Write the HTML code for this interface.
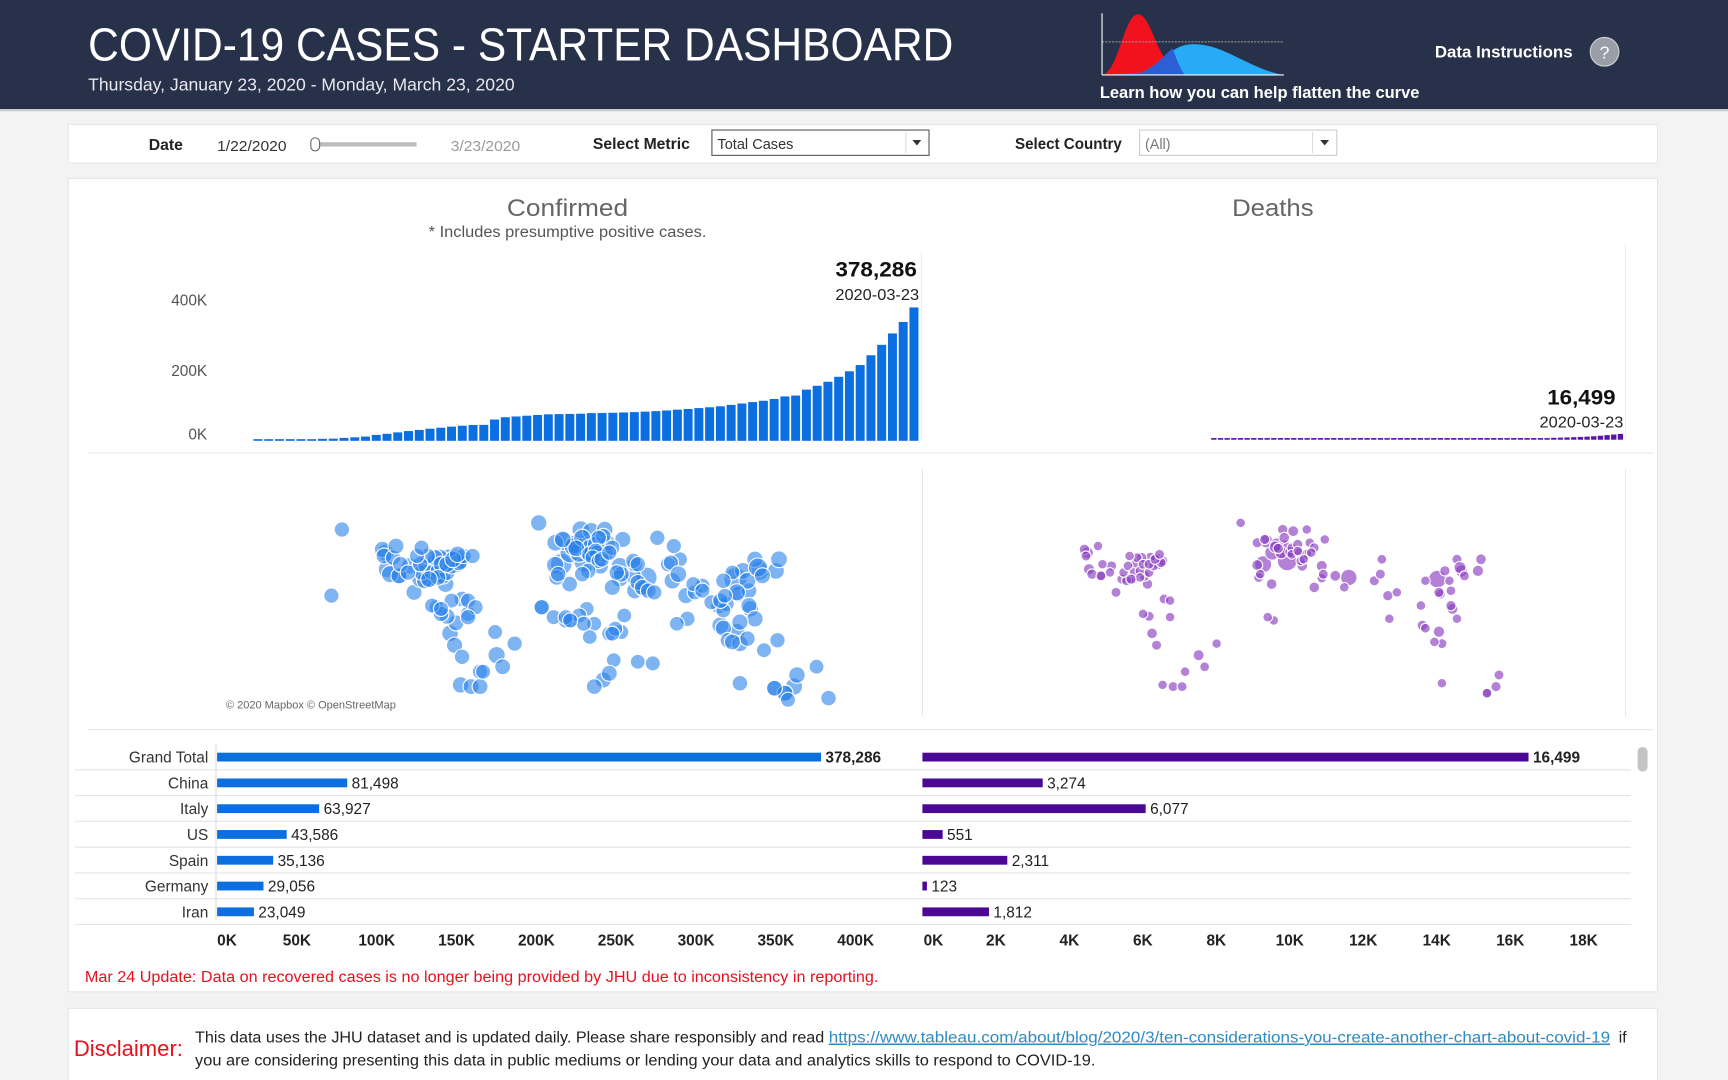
<!DOCTYPE html>
<html><head><meta charset="utf-8"><style>
html,body{margin:0;padding:0;background:#f3f3f3;overflow:hidden}
svg{display:block;font-family:"Liberation Sans",sans-serif}
</style></head><body>
<svg id="root" width="1728" height="1080" viewBox="0 0 1568 980" xmlns="http://www.w3.org/2000/svg">
<rect x="0" y="0" width="1568" height="980" fill="#f3f3f3"/>
<g>
<rect x="0" y="0" width="1568" height="99" fill="#27314a"/>
<rect x="0" y="99" width="1568" height="2" fill="#c9ccd2"/>
<text x="80" y="55" font-size="42" fill="#fff" textLength="785" lengthAdjust="spacingAndGlyphs">COVID-19 CASES - STARTER DASHBOARD</text>
<text x="80" y="82" font-size="16" fill="#e8e8ee" textLength="387" lengthAdjust="spacingAndGlyphs">Thursday, January 23, 2020 - Monday, March 23, 2020</text>
<g>
<path d="M1000 68 C1015 66 1020 12 1033 13 C1046 14 1050 62 1075 68 Z" fill="#f2121e"/>
<path d="M1000 68 L1163 68 C1130 60 1110 40 1083 40 C1062 40 1055 58 1035 66 Z" fill="#27b2ff" opacity="0.95"/>
<path d="M1035 66 C1050 60 1058 48 1064 44 C1068 55 1072 64 1075 68 L1000 68 Z" fill="#2a5fd6"/>
<line x1="1000" y1="38" x2="1165" y2="38" stroke="#999" stroke-dasharray="2 1"/>
<line x1="1000" y1="12" x2="1000" y2="68" stroke="#fff"/>
<line x1="1000" y1="68" x2="1165" y2="68" stroke="#fff"/>
</g>
<text x="998" y="89" font-size="15" fill="#fff" font-weight="bold" textLength="290" lengthAdjust="spacingAndGlyphs">Learn how you can help flatten the curve</text>
<text x="1302" y="52" font-size="15" fill="#fff" font-weight="bold" textLength="125" lengthAdjust="spacingAndGlyphs">Data Instructions</text>
<g>
<circle cx="1456" cy="47" r="13" fill="#9a9ea6" stroke="#d0d0d0"/>
<text x="1456" y="53" font-size="16" fill="#fff" text-anchor="middle">?</text>
</g>
</g>
<g>
<rect x="62" y="113" width="1442" height="35" fill="#fff" stroke="#e6e6e6"/>
<text x="135" y="136" font-size="14" font-weight="bold" fill="#222" textLength="31" lengthAdjust="spacingAndGlyphs">Date</text>
<text x="197" y="137" font-size="13" fill="#333" textLength="63" lengthAdjust="spacingAndGlyphs">1/22/2020</text>
<rect x="290" y="129" width="88" height="4" fill="#bdbdbd"/>
<rect x="282" y="125" width="8" height="12" rx="4" fill="#fff" stroke="#666"/>
<text x="409" y="137" font-size="13" fill="#999" textLength="63" lengthAdjust="spacingAndGlyphs">3/23/2020</text>
<text x="538" y="135" font-size="14" font-weight="bold" fill="#222" textLength="88" lengthAdjust="spacingAndGlyphs">Select Metric</text>
<g>
<rect x="646" y="118" width="197" height="23" fill="#fff" stroke="#555"/>
<line x1="822" y1="120" x2="822" y2="139" stroke="#ddd"/>
<text x="651" y="135" font-size="13" fill="#333" textLength="69" lengthAdjust="spacingAndGlyphs">Total Cases</text>
<path d="M828 127 L836 127 L832 132 Z" fill="#333"/>
</g>
<text x="921" y="135" font-size="14" font-weight="bold" fill="#222" textLength="97" lengthAdjust="spacingAndGlyphs">Select Country</text>
<g>
<rect x="1034" y="118" width="179" height="23" fill="#fff" stroke="#ccc"/>
<line x1="1191" y1="120" x2="1191" y2="139" stroke="#ddd"/>
<text x="1039" y="135" font-size="13" fill="#777">(All)</text>
<path d="M1198 127 L1206 127 L1202 132 Z" fill="#333"/>
</g>
</g>
<rect x="62" y="162" width="1442" height="738" fill="#fff" stroke="#e6e6e6"/>
<text x="515" y="196" font-size="22" fill="#666" text-anchor="middle" textLength="110" lengthAdjust="spacingAndGlyphs">Confirmed</text>
<text x="515" y="215" font-size="14" fill="#555" text-anchor="middle" textLength="252" lengthAdjust="spacingAndGlyphs">* Includes presumptive positive cases.</text>
<text x="1155" y="196" font-size="22" fill="#666" text-anchor="middle" textLength="74" lengthAdjust="spacingAndGlyphs">Deaths</text>
<line x1="836" y1="230" x2="836" y2="399" stroke="#eee"/>
<line x1="1475" y1="222" x2="1475" y2="399" stroke="#eee"/>
<g id="yaxis"></g>
<g id="confBars"></g>
<g id="deathBars"></g>
<text x="832" y="251" font-size="19" font-weight="bold" fill="#111" text-anchor="end" textLength="74" lengthAdjust="spacingAndGlyphs">378,286</text>
<text x="834" y="272" font-size="14" fill="#222" text-anchor="end" textLength="76" lengthAdjust="spacingAndGlyphs">2020-03-23</text>
<text x="1466" y="367" font-size="19" font-weight="bold" fill="#111" text-anchor="end" textLength="62" lengthAdjust="spacingAndGlyphs">16,499</text>
<text x="1473" y="388" font-size="14" fill="#222" text-anchor="end" textLength="76" lengthAdjust="spacingAndGlyphs">2020-03-23</text>
<line x1="80" y1="411" x2="1500" y2="411" stroke="#e8e8e8"/>
<line x1="837" y1="425" x2="837" y2="650" stroke="#e8e8e8"/>
<line x1="1475" y1="425" x2="1475" y2="650" stroke="#e8e8e8"/>
<g id="mapL"></g>
<g id="mapR"></g>
<text x="205" y="643" font-size="10" fill="#666">© 2020 Mapbox © OpenStreetMap</text>
<line x1="80" y1="662" x2="1500" y2="662" stroke="#e8e8e8"/>
<g id="rows"></g>
<rect x="1486" y="678" width="9" height="22" rx="4" fill="#c4c4c4"/>
<g id="xaxis"></g>
<text x="77" y="891" font-size="14" fill="#e8101e" textLength="720" lengthAdjust="spacingAndGlyphs">Mar 24 Update: Data on recovered cases is no longer being provided by JHU due to inconsistency in reporting.</text>
<rect x="62" y="915" width="1442" height="70" fill="#fff" stroke="#e6e6e6"/>
<text x="67" y="958" font-size="20" fill="#e8101e" textLength="99" lengthAdjust="spacingAndGlyphs">Disclaimer:</text>
<text x="177" y="946" font-size="14" fill="#222">
<tspan textLength="575" lengthAdjust="spacingAndGlyphs">This data uses the JHU dataset and is updated daily. Please share responsibly and read </tspan><tspan fill="#2e8bc0" text-decoration="underline" x="752" textLength="709" lengthAdjust="spacingAndGlyphs">https://www.tableau.com/about/blog/2020/3/ten-considerations-you-create-another-chart-about-covid-19</tspan><tspan x="1465"> if</tspan>
</text>
<text x="177" y="967" font-size="14" fill="#222" textLength="817" lengthAdjust="spacingAndGlyphs">you are considering presenting this data in public mediums or lending your data and analytics skills to respond to COVID-19.</text>
</svg>
<script>
const NS="http://www.w3.org/2000/svg";
const dailyConfirmed=[555,654,941,1434,2118,2927,5578,6166,8234,9927,12038,16787,19881,23892,27635,30794,34391,37120,40150,42762,44802,45221,60368,66885,69030,71224,73258,75136,75639,76197,76823,78579,78965,79568,80413,81395,82754,84120,86011,88369,90306,92840,95120,97886,101801,105847,109821,113590,118620,125875,128352,145205,156101,167454,181574,197102,214821,242570,272208,304507,336953,378286];
const dailyDeaths=[17,18,26,42,56,82,131,133,171,213,259,362,426,492,564,634,719,806,906,1013,1113,1118,1371,1523,1666,1770,1868,2007,2122,2247,2251,2458,2469,2629,2708,2770,2814,2872,2941,2996,3085,3160,3254,3348,3460,3558,3803,3996,4262,4615,4720,5404,5819,6440,7126,7905,8733,9867,11299,12973,14623,16499];
const yTicks=[0,200000,400000];
const yTickLabels=["0K","200K","400K"];
const countries=["Grand Total","China","Italy","US","Spain","Germany","Iran"];
const countryConfirmed=[378286,81498,63927,43586,35136,29056,23049];
const countryDeaths=[16499,3274,6077,551,2311,123,1812];
const confTicks=[0,50000,100000,150000,200000,250000,300000,350000,400000];
const confTickLabels=["0K","50K","100K","150K","200K","250K","300K","350K","400K"];
const deathTicks=[0,2000,4000,6000,8000,10000,12000,14000,16000,18000];
const deathTickLabels=["0K","2K","4K","6K","8K","10K","12K","14K","16K","18K"];
// map bubbles: lon, lat, cases, deaths
const mapLon=[112,12,-4,10,53,2,-75,-121,-120,8,128,-2,5,14,4,9,16,10,-8,-47,-79,-123,151,102,35,35,15,139,-8,6,70,-78,-71,19,101,45,25,22,113,-19,122,79,104,15,25,51,30,-75,-102,-64,-74,-80,24,-91,-81,-89,-85,-74,-83,-98,-105,114,121,106,37,1.6,-7,44,36,174,117,120,113,-70,-66,-58,-87,-84,-112,-95,145,115,138,-157,-150,28,18,-17,3,-1,-6,-9,60,75,85,90,67,140,
-118,-112,-97,-94,-90,-86,-80,-77,-71,-72,-88,-93,-84,-80,-122,-116,-111,-106,-98,-100,-69,-76,-86,-92,-114,-73,-63,-97,-66,-77,-61,-90,-84,-66,-58,-70,-56,-43,-35,-48,-3,20,27,24,21,19,17,21,23,30,28,33,14,10,13,8,-1,-17,36,38,32,30,31,28,18,47,57,15,11,2,47,50,54,58,45,44,47,69,71,74,84,90,80,73,96,104,102,105,110,104,125,127,130,141,121,125,115,107,115,120,110,145,153,138,147,131,166,178];
const mapLat=[31,42,40,51,32,47,43,47,37,47,36,54,52,47.5,50.5,61,60,56,39.5,-15,44,49,-34,3,39,31.5,50,36,53,49.6,30,-1.8,-33,52,15,24,61,39,-0.8,65,13,21,1.3,46,46,25,26,-9,23,-34,4.5,8.5,-30,31,28,40,44,40,33,31,39,22,24,16,55,28,32,33,34,-41,36,30,23,19,10,-25,14,10,33,30,-38,-32,-35,21,61,-2,4,14,6,6,34,8,56,43,23,27,40,-6,
34,33,35,39,35,36,35,39,42,41,44,45,40,40,45,44,40,35,40,45,45,43,32,31,51,46,45,50,18,18,14,15,13,8,-34,-16,-25,-22,-8,-1,55,47,53,57,56,48,44,42,43,50,47,35,36,34,13,9,8,14,-1,9,1,-2,-18,-26,-34,-19,-20,-4,4,6,29,26,24,23,40,42,40,41,51,34,28,24,7,4,17,12,18,21,35,30,43,38,33,43,15,7,5,-6,-8,-5,-7,-38,-27,-35,-42,-12,-22,-18];
const mapCases=[67800,63927,35136,29056,23049,20000,20875,2000,2100,8800,8961,6650,4800,4400,3700,2600,2000,1500,2060,1900,2000,500,1600,1500,1500,1600,1200,1100,900,900,800,980,740,750,720,560,700,620,580,580,460,450,450,400,430,500,330,400,360,260,230,310,400,1000,1100,1200,1300,2800,800,700,700,350,200,120,440,200,110,266,250,100,1000,1200,1400,200,80,60,30,120,300,350,400,120,150,50,60,20,10,80,40,50,100,30,70,40,30,25,20,60,
1500,300,80,150,120,200,300,400,800,500,300,200,300,600,200,50,200,80,60,30,40,900,150,800,300,600,50,40,40,20,30,20,30,70,250,60,20,200,50,20,900,150,80,120,60,100,80,60,150,50,60,95,80,100,10,30,25,60,15,10,10,10,3,300,200,10,30,5,20,20,200,300,150,50,150,60,70,40,40,900,20,30,80,10,20,10,100,15,10,100,500,8900,300,1100,400,600,500,100,500,100,300,300,700,200,20,15,10];
const mapDeaths=[3153,6077,2311,123,1812,860,157,94,40,120,111,335,214,23,88,10,25,24,23,34,24,13,7,14,37,1,1,42,7,8,6,18,1,8,1,0,1,17,49,1,25,10,2,1,7,0,19,5,4,4,0,6,0,20,12,12,15,27,25,9,7,4,2,0,1,17,4,23,4,0,10,1,8,3,0,0,0,1,2,3,3,1,0,0,0,0,0,0,1,0,1,0,0,2,1,0,0,0,
12,3,1,2,1,2,3,4,9,6,3,1,2,3,4,0,1,1,0,0,0,5,1,6,1,4,0,0,1,0,0,0,0,1,4,0,1,2,1,0,6,3,1,0,0,1,0,1,1,3,1,0,0,0,0,0,1,0,0,0,0,0,0,0,0,0,0,0,0,0,0,1,0,0,0,0,0,0,0,5,0,0,1,0,0,0,0,0,0,1,6,100,3,20,8,1,0,0,5,0,1,1,4,0,0,0,0];

function el(tag,attrs,parent){const e=document.createElementNS(NS,tag);for(const k in attrs)e.setAttribute(k,attrs[k]);parent.appendChild(e);return e;}

const yBase=400, yPerUnit=64/200000;
function yPos(v){return yBase-v*yPerUnit;}
const confX0=230, confX1=835, deathX0=1099, deathX1=1474;
function confX(i){return confX0+i*(confX1-confX0)/dailyConfirmed.length;}
function deathX(i){return deathX0+i*(deathX1-deathX0)/dailyDeaths.length;}

const yaxis=document.getElementById('yaxis');
yTicks.forEach((t,i)=>{
  const tx=el('text',{x:188,y:yPos(t)+5-(t===0?6:0),'font-size':14,fill:'#555','text-anchor':'end'},yaxis);
  
  
  tx.textContent=yTickLabels[i];
});
const cb=document.getElementById('confBars');
const cw=(confX1-confX0)/dailyConfirmed.length;
dailyConfirmed.forEach((v,i)=>{
  const h=Math.max(1.5,v*yPerUnit);
  const r=el('rect',{x:confX(i),y:yBase-h,width:cw-1.6,height:h,fill:'#0b6fe0'},cb);
  
  
});
const db=document.getElementById('deathBars');
const dw=(deathX1-deathX0)/dailyDeaths.length;
dailyDeaths.forEach((v,i)=>{
  const h=Math.max(1.5,v*yPerUnit);
  const r=el('rect',{x:deathX(i),y:yBase-h-1,width:dw-1.2,height:h,fill:'#5a12a6'},db);
  
  
});

function mapX(lon){return 283+(lon+170)/350*477;}
function mapY(lat){return 500+(48-lat)*1.5;}
const maxC=Math.max(...mapCases), maxD=Math.max(...mapDeaths);
const mL=document.getElementById('mapL'), mR=document.getElementById('mapR');
mapLon.forEach((lon,i)=>{
  const c=el('circle',{cx:mapX(lon),cy:mapY(mapLat[i]),r:6.5+4*Math.pow(mapCases[i]/maxC,0.3),fill:'#2a82ea','fill-opacity':0.6,stroke:'#fff','stroke-width':1},mL);
  
  
  if(mapDeaths[i]>0){
    const d=el('circle',{cx:mapX(lon)+637,cy:mapY(mapLat[i]),r:4+5*Math.pow(mapDeaths[i]/maxD,0.3),fill:'#8a3fc0','fill-opacity':0.65,stroke:'#fff','stroke-width':1},mR);
    
    
  }
});

const cx0=197, cPer=548/378286, dx0=837, dPer=550/16499;
function cScale(v){return cx0+v*cPer;}
function dScale(v){return dx0+v*dPer;}
const rowY0=687, rowStep=23.4;
const rows=document.getElementById('rows');
el('line',{x1:196,y1:675,x2:196,y2:835,stroke:'#ddd'},rows);
countries.forEach((name,i)=>{
  const y=rowY0+i*rowStep;
  const sep=el('line',{x1:68,y1:y+11.5,x2:1480,y2:y+11.5,stroke:'#e4e4e4'},rows);
  
  
  const lb=el('text',{x:189,y:y+5,'font-size':14,fill:'#333','text-anchor':'end'},rows);
  
  
  lb.textContent=name;
  const b1=el('rect',{x:cx0,y:y-4,width:cScale(countryConfirmed[i])-cx0,height:8,fill:'#0b6fe0'},rows);
  
  
  const v1=el('text',{x:cScale(countryConfirmed[i])+4,y:y+5,'font-size':14,fill:'#222','font-weight':i===0?'bold':'normal'},rows);
  
  
  v1.textContent=countryConfirmed[i].toLocaleString('en-US');
  const b2=el('rect',{x:dx0,y:y-4,width:Math.max(2.5,dScale(countryDeaths[i])-dx0),height:8,fill:'#4b0895'},rows);
  
  
  const v2=el('text',{x:Math.max(dx0+2.5,dScale(countryDeaths[i]))+4,y:y+5,'font-size':14,fill:'#222','font-weight':i===0?'bold':'normal'},rows);
  
  
  v2.textContent=countryDeaths[i].toLocaleString('en-US');
});
const xa=document.getElementById('xaxis');
confTicks.forEach((t,i)=>{
  const tx=el('text',{x:Math.max(cScale(t),206),y:858,'font-size':14,'font-weight':'bold',fill:'#222','text-anchor':'middle'},xa);
  
  
  tx.textContent=confTickLabels[i];
});
deathTicks.forEach((t,i)=>{
  const tx=el('text',{x:Math.max(dScale(t),847),y:858,'font-size':14,'font-weight':'bold',fill:'#222','text-anchor':'middle'},xa);
  
  
  tx.textContent=deathTickLabels[i];
});
</script>
</body></html>
